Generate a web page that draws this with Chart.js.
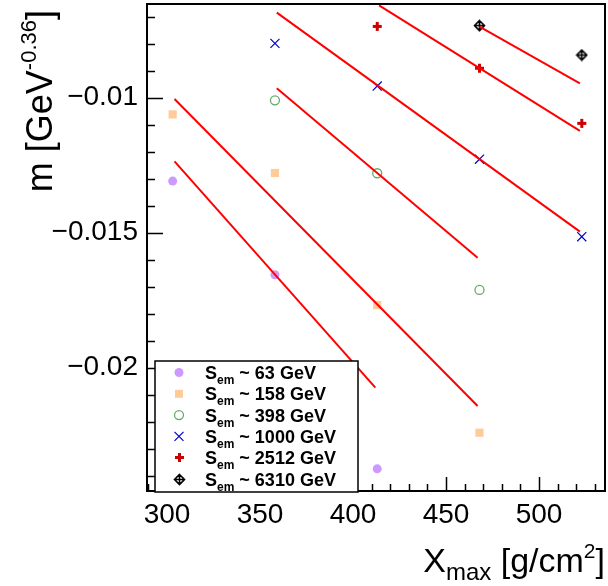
<!DOCTYPE html>
<html>
<head>
<meta charset="utf-8">
<script src="https://cdn.jsdelivr.net/npm/chart.js@4.4.1/dist/chart.umd.min.js"></script>
<style>
  body { margin: 0; background: #fff; }
  canvas { display: block; }
</style>
</head>
<body>
<canvas id="myChart" width="608" height="586"></canvas>
<script>
// ---- data ----
var legendLabels = ["63", "158", "398", "1000", "2512", "6310"];

var x63 = [303, 358, 413];
var y63 = [-0.01309, -0.01656, -0.02375];
var x158 = [303, 358, 413, 468];
var y158 = [-0.01062, -0.01279, -0.01768, -0.02241];
var x398 = [358, 413, 468];
var y398 = [-0.01010, -0.01280, -0.01712];
var x1000 = [358, 413, 468, 523];
var y1000 = [-0.00799, -0.00957, -0.01228, -0.01515];
var x2512 = [413, 468, 523];
var y2512 = [-0.00736, -0.00891, -0.01095];
var x6310 = [468, 523];
var y6310 = [-0.00733, -0.00842];

// fitted lines (end points)
var fitX63 = [304, 412];   var fitY63 = [-0.01236, -0.02074];
var fitX158 = [304, 467];  var fitY158 = [-0.01005, -0.02142];
var fitX398 = [359, 467];  var fitY398 = [-0.00965, -0.01593];
var fitX1000 = [359, 522]; var fitY1000 = [-0.00685, -0.01496];
var fitX2512 = [414, 522]; var fitY2512 = [-0.00658, -0.01123];
var fitX6310 = [468, 522]; var fitY6310 = [-0.00737, -0.00947];

var xTicks = [300, 350, 400, 450, 500];
var xTickLabels = ["300", "350", "400", "450", "500"];
var yTicks = [-0.02, -0.015, -0.01];
var yTickLabels = ["\u22120.02", "\u22120.015", "\u22120.01"];

var FONT = "'Liberation Sans', Arial, Helvetica, sans-serif";

function pts(xs, ys) {
  var out = [];
  for (var i = 0; i < xs.length; i++) out.push({x: xs[i], y: ys[i]});
  return out;
}

// custom markers (ROOT full cross and diamond with cross)
function makeCross() {
  var c = document.createElement("canvas");
  c.width = 11; c.height = 11;
  var g = c.getContext("2d");
  g.fillStyle = "#cc0000";
  g.fillRect(4, 1, 3, 9);
  g.fillRect(1, 4, 9, 3);
  return c;
}
function makeDiamondCross() {
  var c = document.createElement("canvas");
  c.width = 13; c.height = 13;
  var g = c.getContext("2d");
  g.strokeStyle = "#000";
  g.lineWidth = 1.6;
  g.beginPath();
  g.moveTo(6.5, 1.5); g.lineTo(11.5, 6.5); g.lineTo(6.5, 11.5); g.lineTo(1.5, 6.5); g.closePath();
  g.moveTo(6.5, 1.5); g.lineTo(6.5, 11.5);
  g.moveTo(1.5, 6.5); g.lineTo(11.5, 6.5);
  g.stroke();
  return c;
}
var crossImg = makeCross();
var diamondImg = makeDiamondCross();

var markerStyles = [
  {pointStyle: "circle", pointRadius: 4.5, pointBackgroundColor: "#cc99ff", pointBorderColor: "#cc99ff", pointBorderWidth: 0},
  {pointStyle: "rect", pointRadius: 5.8, pointBackgroundColor: "#ffcc99", pointBorderColor: "#ffcc99", pointBorderWidth: 0},
  {pointStyle: "circle", pointRadius: 4.5, pointBackgroundColor: "rgba(0,0,0,0)", pointBorderColor: "#66aa66", pointBorderWidth: 1.3},
  {pointStyle: "crossRot", pointRadius: 6.4, pointBackgroundColor: "#0000cc", pointBorderColor: "#0000cc", pointBorderWidth: 1.2},
  {pointStyle: crossImg, pointRadius: 5},
  {pointStyle: diamondImg, pointRadius: 6}
];

var seriesPts = [pts(x63, y63), pts(x158, y158), pts(x398, y398), pts(x1000, y1000), pts(x2512, y2512), pts(x6310, y6310)];
var fitPts = [pts(fitX63, fitY63), pts(fitX158, fitY158), pts(fitX398, fitY398), pts(fitX1000, fitY1000), pts(fitX2512, fitY2512), pts(fitX6310, fitY6310)];

var datasets = [];
for (var i = 0; i < fitPts.length; i++) {
  datasets.push({
    data: fitPts[i], showLine: true, borderColor: "#ff0000", borderWidth: 2,
    pointRadius: 0, fill: false
  });
}
for (var j = 0; j < seriesPts.length; j++) {
  var ds = {data: seriesPts[j], showLine: false};
  for (var k in markerStyles[j]) ds[k] = markerStyles[j][k];
  datasets.push(ds);
}

// text with sub/superscripts, right aligned at x
function richWidth(ctx, parts, size) {
  var w = 0;
  parts.forEach(function(p) {
    ctx.font = (p.bold ? "bold " : "") + Math.round(size * (p.s || 1)) + "px " + FONT;
    w += ctx.measureText(p.t).width;
  });
  return w;
}
function drawRich(ctx, parts, x, y, size, align) {
  var w = richWidth(ctx, parts, size);
  var cx = align === "right" ? x - w : x;
  ctx.textAlign = "left";
  ctx.textBaseline = "alphabetic";
  parts.forEach(function(p) {
    ctx.font = (p.bold ? "bold " : "") + Math.round(size * (p.s || 1)) + "px " + FONT;
    ctx.fillText(p.t, cx, y + (p.dy || 0));
    cx += ctx.measureText(p.t).width;
  });
}

var decorPlugin = {
  id: "decor",
  afterDatasetsDraw: function(chart) {
    var ctx = chart.ctx;
    var a = chart.chartArea;
    var xs = chart.scales.x, ys = chart.scales.y;
    ctx.save();
    ctx.strokeStyle = "#000";
    ctx.lineWidth = 1.5;
    ctx.beginPath();
    // y ticks, every 0.001, major every 0.005
    for (var n = -24; n <= -7; n++) {
      var v = n / 1000;
      var py = Math.round(ys.getPixelForValue(v)) + 0.5;
      var major = (n % 5 === 0);
      ctx.moveTo(a.left, py);
      ctx.lineTo(a.left + (major ? 16 : 8), py);
    }
    // x ticks, every 10, major every 50
    for (var m = 290; m <= 530; m += 10) {
      var px = Math.round(xs.getPixelForValue(m)) + 0.5;
      var maj = (m % 50 === 0);
      ctx.moveTo(px, a.bottom);
      ctx.lineTo(px, a.bottom - (maj ? 14 : 7));
    }
    ctx.stroke();
    // frame
    ctx.lineWidth = 2;
    ctx.strokeRect(a.left, a.top, a.right - a.left, a.bottom - a.top);
    ctx.restore();
  },
  afterDraw: function(chart) {
    var ctx = chart.ctx;
    ctx.save();
    ctx.fillStyle = "#000";
    // axis titles
    drawRich(ctx, [
      {t: "X"}, {t: "max", s: 0.72, dy: 8}, {t: " [g/cm"}, {t: "2", s: 0.62, dy: -14}, {t: "]"}
    ], 605, 572, 34, "right");
    ctx.save();
    ctx.translate(52, 10);
    ctx.rotate(-Math.PI / 2);
    drawRich(ctx, [
      {t: "m [GeV"}, {t: "-0.36", s: 0.62, dy: -16}, {t: "]"}
    ], 0, 0, 36, "right");
    ctx.restore();

    // legend box
    var lx = 155, ly = 361, lw = 203, lh = 131;
    ctx.fillStyle = "#fff";
    ctx.fillRect(lx, ly, lw, lh);
    ctx.strokeStyle = "#000";
    ctx.lineWidth = 1.5;
    ctx.strokeRect(lx, ly, lw, lh);
    for (var i = 0; i < legendLabels.length; i++) {
      var cy = 372.5 + i * 21.3;
      var st = markerStyles[i];
      var mx = 179;
      if (i === 0) {
        ctx.fillStyle = st.pointBackgroundColor;
        ctx.beginPath(); ctx.arc(mx, cy, 4.5, 0, Math.PI * 2); ctx.fill();
      } else if (i === 1) {
        ctx.fillStyle = st.pointBackgroundColor;
        ctx.fillRect(mx - 4, cy - 4, 8, 8);
      } else if (i === 2) {
        ctx.strokeStyle = st.pointBorderColor; ctx.lineWidth = 1.3;
        ctx.beginPath(); ctx.arc(mx, cy, 4.5, 0, Math.PI * 2); ctx.stroke();
      } else if (i === 3) {
        ctx.strokeStyle = st.pointBorderColor; ctx.lineWidth = 1.2;
        ctx.beginPath();
        ctx.moveTo(mx - 4.5, cy - 4.5); ctx.lineTo(mx + 4.5, cy + 4.5);
        ctx.moveTo(mx + 4.5, cy - 4.5); ctx.lineTo(mx - 4.5, cy + 4.5);
        ctx.stroke();
      } else {
        var img = i === 4 ? crossImg : diamondImg;
        ctx.drawImage(img, Math.round(mx - img.width / 2), Math.round(cy - img.height / 2));
      }
      ctx.fillStyle = "#000";
      drawRich(ctx, [
        {t: "S", bold: true}, {t: "em", bold: true, s: 0.68, dy: 5}, {t: " ~ " + legendLabels[i] + " GeV", bold: true}
      ], 205, cy + 6.5, 18, "left");
    }
    ctx.restore();
  }
};

var chart = new Chart(document.getElementById("myChart").getContext("2d"), {
  type: "scatter",
  data: {datasets: datasets},
  options: {
    responsive: false,
    animation: false,
    devicePixelRatio: 1,
    layout: {autoPadding: false, padding: {left: 0, right: 3, top: 4, bottom: 0}},
    plugins: {legend: {display: false}, tooltip: {enabled: false}},
    scales: {
      x: {
        type: "linear", min: 289.2, max: 535.5,
        grid: {display: false, drawTicks: false},
        border: {display: false},
        afterFit: function(s) { s.height = 95; s.paddingLeft = 0; s.paddingRight = 0; },
        afterBuildTicks: function(s) { s.ticks = xTicks.map(function(v) { return {value: v}; }); },
        ticks: {
          color: "#000", padding: 7, autoSkip: false, maxRotation: 0,
          font: {family: FONT, size: 28},
          callback: function(v) { return xTickLabels[xTicks.indexOf(v)]; }
        }
      },
      y: {
        type: "linear", min: -0.02457, max: -0.00653,
        grid: {display: false, drawTicks: false},
        border: {display: false},
        afterFit: function(s) { s.width = 147; s.paddingTop = 0; s.paddingBottom = 0; },
        afterBuildTicks: function(s) { s.ticks = yTicks.map(function(v) { return {value: v}; }); },
        ticks: {
          color: "#000", padding: 9, autoSkip: false,
          font: {family: FONT, size: 28},
          callback: function(v) { return yTickLabels[yTicks.indexOf(v)]; }
        }
      }
    }
  },
  plugins: [decorPlugin]
});
</script>
</body>
</html>
